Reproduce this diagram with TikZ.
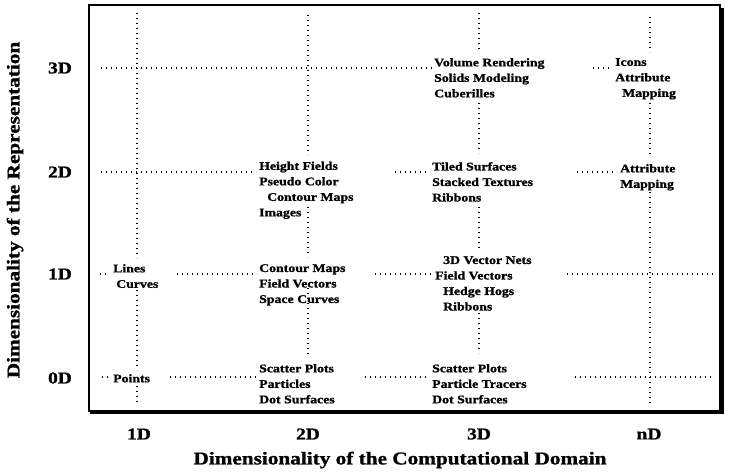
\documentclass[tikz,border=0pt]{standalone}
\usepackage{fontspec}
\setmainfont{Liberation Serif}[FakeStretch=1.18, BoldFeatures={FakeBold=1.2}]
\begin{document}
\begin{tikzpicture}[x=1pt,y=-1pt,
  gridline/.style={line width=1.35pt, dash pattern=on 1.4pt off 3.6pt},
  item/.style={font=\bfseries\fontsize{11.7}{15.5}\selectfont, inner sep=0pt, align=left, anchor=north west},
  tick/.style={font=\bfseries\fontsize{16.5}{18}\selectfont, inner sep=0pt},
  axtitle/.style={font=\bfseries\fontsize{18}{20}\selectfont, inner sep=0pt}]
\fill[white] (0,0) rectangle (730,472);
\useasboundingbox (0,0) rectangle (730,472);
% frame with shadow
\draw[line width=1.5pt] (89,5) rectangle (720,411);
\draw[line width=3.5pt] (90,412.5) -- (722.5,412.5) -- (722.5,8);

% vertical grid lines
\draw[gridline] (137,13) -- (137,258);
\draw[gridline] (137,290) -- (137,370);
\draw[gridline] (137,386) -- (137,405);
\draw[gridline] (308,15) -- (308,155);
\draw[gridline] (308,207) -- (308,257);
\draw[gridline] (308,288) -- (308,357);
\draw[gridline] (479,13) -- (479,52);
\draw[gridline] (479,103) -- (479,153);
\draw[gridline] (479,207) -- (479,248);
\draw[gridline] (479,313) -- (479,353);
\draw[gridline] (650,17) -- (650,52);
\draw[gridline] (650,103) -- (650,155);
\draw[gridline] (650,192) -- (650,405);

% horizontal grid lines
\draw[gridline] (101,68) -- (432,68);
\draw[gridline] (593,68) -- (612,68);
\draw[gridline] (101,172) -- (256,172);
\draw[gridline] (395,172) -- (430,172);
\draw[gridline] (577,172) -- (617,172);
\draw[gridline] (100,274) -- (110,274);
\draw[gridline] (177,274) -- (257,274);
\draw[gridline] (375,274) -- (433,274);
\draw[gridline] (567,274) -- (713,274);
\draw[gridline] (102,377) -- (109,377);
\draw[gridline] (170,377) -- (256,377);
\draw[gridline] (365,377) -- (429,377);
\draw[gridline] (575,377) -- (713,377);

% cell contents
\node[item] (vol) at (434,58) {Volume Rendering\\Solids Modeling\\Cuberilles};
\node[item] (icons) at (615,58) {Icons\\Attribute\\\hspace*{7pt}Mapping};
\node[item] (hf) at (259,161.5) {Height Fields\\Pseudo Color\\\hspace*{8pt}Contour Maps\\Images};
\node[item] (tiled) at (432,162) {Tiled Surfaces\\Stacked Textures\\Ribbons};
\node[item] (attr) at (620,164) {Attribute\\Mapping};
\node[item] (lines) at (113,264) {Lines\\\hspace*{3pt}Curves};
\node[item] (cm) at (259,264) {Contour Maps\\Field Vectors\\Space Curves};
\node[item] (vn) at (435,256) {\hspace*{8pt}3D Vector Nets\\Field Vectors\\\hspace*{8pt}Hedge Hogs\\\hspace*{8pt}Ribbons};
\node[item] (pts) at (113,374) {Points};
\node[item] (sp2) at (259,364) {Scatter Plots\\Particles\\Dot Surfaces};
\node[item] (sp3) at (432,364) {Scatter Plots\\Particle Tracers\\Dot Surfaces};

% tick labels
\node[tick] (r3) at (60,68) {3D};
\node[tick] (r2) at (60,172) {2D};
\node[tick] (r1) at (60,274) {1D};
\node[tick] (r0) at (60,378) {0D};
\node[tick] (c1) at (139,434) {1D};
\node[tick] (c2) at (308,434) {2D};
\node[tick] (c3) at (479,434) {3D};
\node[tick] (cn) at (649,434) {nD};

% axis titles
\node[axtitle] (xt) at (400,460) {Dimensionality of the Computational Domain};
\node[axtitle, rotate=90] (yt) at (15,210) {Dimensionality of the Representation};
\end{tikzpicture}
\end{document}
